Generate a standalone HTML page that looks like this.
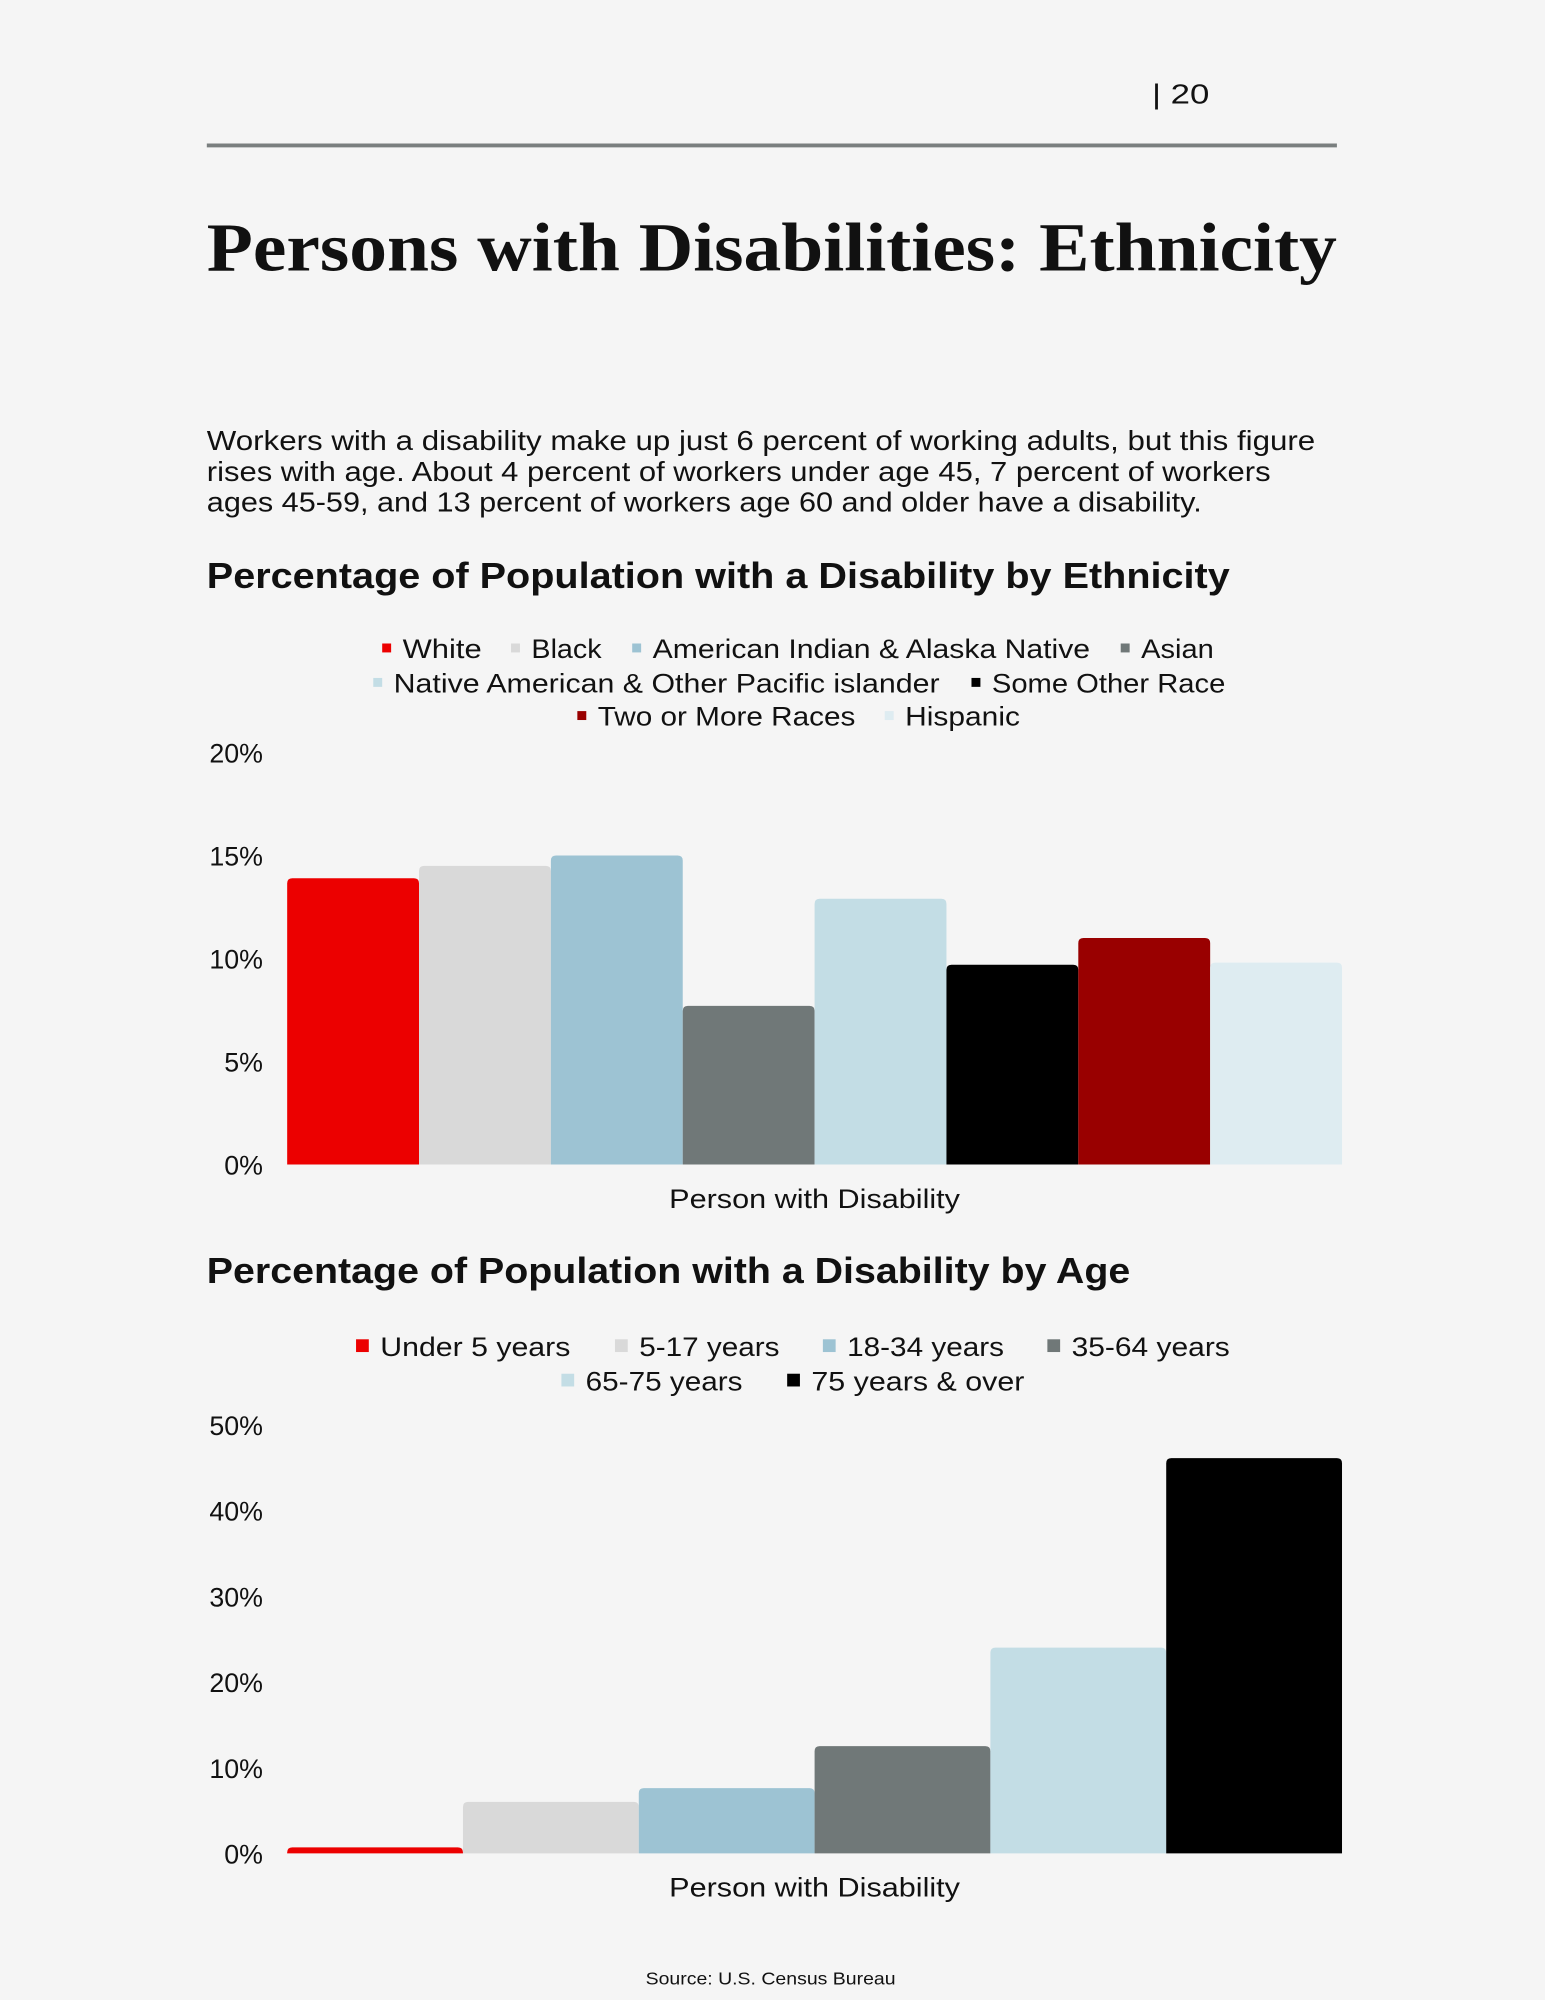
<!DOCTYPE html>
<html><head><meta charset="utf-8">
<style>
html,body{margin:0;padding:0;background:#f5f5f5;}
svg{display:block;}
text{font-family:"Liberation Sans",sans-serif;fill:#111;}
</style></head>
<body>
<svg id="page" width="1545" height="2000" viewBox="0 0 1211 1568" xmlns="http://www.w3.org/2000/svg">
<rect width="1211" height="1568" fill="#f5f5f5"/>
<text x="903" y="81" font-size="22" textLength="45" lengthAdjust="spacingAndGlyphs">| 20</text>
<line x1="162" y1="114" x2="1048" y2="114" stroke="#7a7f7f" stroke-width="3"/>
<text x="162" y="212" font-size="54" font-weight="bold" style="font-family:'Liberation Serif',serif" textLength="886" lengthAdjust="spacingAndGlyphs">Persons with Disabilities: Ethnicity</text>
<g font-size="22">
<text x="162" y="353" textLength="869" lengthAdjust="spacingAndGlyphs">Workers with a disability make up just 6 percent of working adults, but this figure</text>
<text x="162" y="377" textLength="834" lengthAdjust="spacingAndGlyphs">rises with age. About 4 percent of workers under age 45, 7 percent of workers</text>
<text x="162" y="401" textLength="780" lengthAdjust="spacingAndGlyphs">ages 45-59, and 13 percent of workers age 60 and older have a disability.</text>
</g>
<text x="162" y="461" font-size="28" font-weight="bold" textLength="802" lengthAdjust="spacingAndGlyphs">Percentage of Population with a Disability by Ethnicity</text>
<g id="chart1"></g>
<text x="162" y="1006" font-size="28" font-weight="bold" textLength="724" lengthAdjust="spacingAndGlyphs">Percentage of Population with a Disability by Age</text>
<g id="chart2"></g>
<text x="604" y="1556" font-size="14" text-anchor="middle" textLength="196" lengthAdjust="spacingAndGlyphs">Source: U.S. Census Bureau</text>
</svg>
<script>
const ethCategories = ["White","Black","American Indian & Alaska Native","Asian","Native American & Other Pacific islander","Some Other Race","Two or More Races","Hispanic"];
const ethValues = [13.9, 14.5, 15.0, 7.7, 12.9, 9.7, 11.0, 9.8];
const ethTicks = [0,5,10,15,20];
const ethColors = ["#ec0000","#d9d9d9","#9dc3d3","#707878","#c3dde5","#000000","#990000","#deecf1"];
const ageCategories = ["Under 5 years","5-17 years","18-34 years","35-64 years","65-75 years","75 years & over"];
const ageValues = [0.7, 6.0, 7.6, 12.5, 24.0, 46.1];
const ageTicks = [0,10,20,30,40,50];
const ageColors = ["#ec0000","#d9d9d9","#9dc3d3","#707878","#c3dde5","#000000"];
const ethLegendPos = [[303,508],[404,508],[499,508],[882,508],[296,535],[765,535],[456,561],[697,561]];
const ethLegendW = [62,55,343,57,428,183,202,90];
const ageLegendPos = [[284,1055],[487,1055],[650,1055],[826,1055],[445,1082],[622,1082]];
const ageLegendW = [149,110,123,124,123,167];
const NS="http://www.w3.org/2000/svg";
function mk(tag, attrs, parent){const e=document.createElementNS(NS,tag);for(const k in attrs)e.setAttribute(k,attrs[k]);parent.appendChild(e);return e;}
function barPath(x,y,w,h,r){r=Math.min(r,h,w/2);if(h<=0)return "";return `M${x},${y+h}V${y+r}Q${x},${y} ${x+r},${y}H${x+w-r}Q${x+w},${y} ${x+w},${y+r}V${y+h}Z`;}
function drawChart(g, cats, vals, ticks, colors, legendPos, legendW, y0, y1, x0, x1, mSize, xlabY){
  const maxV = ticks[ticks.length-1];
  const yScale = v => y0 - (v/maxV)*(y0-y1);
  const bw = (x1-x0)/cats.length;
  const xScale = i => x0 + i*bw;
  ticks.forEach(t=>{
    const tx = mk('text',{x:206,y:yScale(t)+8,'font-size':21,'text-anchor':'end'},g);
    
    
    tx.textContent = t+'%';
  });
  cats.forEach((c,i)=>{
    const y = yScale(vals[i]);
    const p = mk('path',{d:barPath(xScale(i),y,bw,y0-y,4),fill:colors[i]},g);
    
    
    const lp = legendPos[i];
    const m = mk('rect',{x:lp[0]-mSize/2,y:lp[1]-mSize/2,width:mSize,height:mSize,fill:colors[i]},g);
    
    
    const lt = mk('text',{x:lp[0]+mSize/2+9,y:lp[1]+8,'font-size':21,textLength:legendW[i],lengthAdjust:'spacingAndGlyphs'},g);
    
    
    lt.textContent = c;
  });
  const xl = mk('text',{x:(x0+x1)/2,y:xlabY,'font-size':21,'text-anchor':'middle',textLength:228,lengthAdjust:'spacingAndGlyphs'},g);
  
  
  xl.textContent = 'Person with Disability';
}
drawChart(document.getElementById('chart1'), ethCategories, ethValues, ethTicks, ethColors, ethLegendPos, ethLegendW, 913, 590, 225, 1052, 7, 947);
drawChart(document.getElementById('chart2'), ageCategories, ageValues, ageTicks, ageColors, ageLegendPos, ageLegendW, 1453, 1117, 225, 1052, 10, 1487);
</script>
</body></html>
